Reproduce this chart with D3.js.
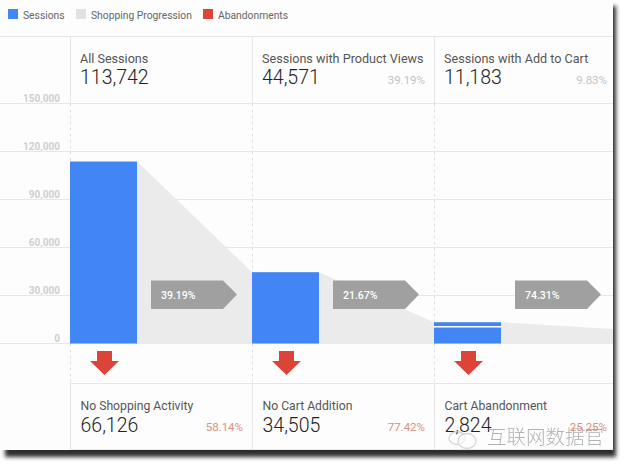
<!DOCTYPE html>
<html>
<head>
<meta charset="utf-8">
<script src="https://cdn.jsdelivr.net/npm/d3@7"></script>
<style>
  html, body { margin: 0; padding: 0; background: #fff; }
  svg { display: block; }
  text { font-family: Roboto, "Liberation Sans", sans-serif; }
</style>
</head>
<body>
<svg id="chart" width="625" height="467"></svg>
<script>
// Data
const legendNames = ['Sessions', 'Shopping Progression', 'Abandonments'];
const legendColors = ['#4285f4', '#e2e2e2', '#db4437'];
const yTicks = [0, 30000, 60000, 90000, 120000, 150000];

const stageTitles = ['All Sessions', 'Sessions with Product Views', 'Sessions with Add to Cart'];
const stageValues = ['113,742', '44,571', '11,183'];
const stageShares = ['', '39.19%', '9.83%'];

// bar heights as drawn (the last bar is drawn taller than its label, with a white split)
const barValues = [113742, 44571, 13300];
const barSplit = [null, null, 10300];
const funnelEnd = 9000;
const progressLabels = ['39.19%', '21.67%', '74.31%'];

const dropTitles = ['No Shopping Activity', 'No Cart Addition', 'Cart Abandonment'];
const dropValues = ['66,126', '34,505', '2,824'];
const dropShares = ['58.14%', '77.42%', '25.25%'];

const svg = d3.select('#chart');

// panel + shadow
const defs = svg.append('defs');
defs.append('filter').attr('id', 'blur').attr('x', '-5%').attr('y', '-5%').attr('width', '110%').attr('height', '110%')
  .append('feGaussianBlur').attr('stdDeviation', 2.2);

svg.append('rect').attr('x', 5).attr('y', 6).attr('width', 611).attr('height', 451)
  .attr('fill', '#2e2e2e').attr('filter', 'url(#blur)');
svg.append('rect').attr('x', -2).attr('y', -2).attr('width', 615).attr('height', 452).attr('fill', '#fdfdfd');

// scales
const y = d3.scaleLinear().domain([0, 150000]).range([343.5, 103.5]);
const x = d3.scaleLinear().domain([0, 1]).range([70, 252]); // one stage = 182px
const barW = 67;
const right = 613;
const stages = d3.range(3);

// horizontal rules outside the value axis
const lineColor = '#e6e6e6';
svg.append('line').attr('x1', 0).attr('x2', right).attr('y1', 36.5).attr('y2', 36.5).attr('stroke', lineColor);
[383.5, 449.5].forEach(ly => {
  svg.append('line').attr('x1', 70).attr('x2', right).attr('y1', ly).attr('y2', ly).attr('stroke', lineColor);
});

// value axis + grid
const axis = d3.axisLeft(y).tickValues(yTicks).tickFormat(d3.format(',')).tickSize(0).tickPadding(10);
const axisG = svg.append('g').attr('transform', 'translate(70,0)').call(axis);
axisG.select('.domain').remove();
axisG.selectAll('text').attr('dy', -2.5).attr('fill', '#cfcfcf').attr('font-size', 10).attr('font-weight', 700)
  .style('font-family', 'Roboto, sans-serif');

svg.append('g').selectAll('line').data(yTicks).join('line')
  .attr('x1', 0).attr('x2', right)
  .attr('y1', d => y(d)).attr('y2', d => y(d))
  .attr('stroke', lineColor);

// funnel shapes between the bars
const nextTop = i => i < 2 ? barValues[i + 1] : funnelEnd;
const nextX = i => i < 2 ? x(i + 1) : right;
svg.append('g').selectAll('path').data(stages).join('path')
  .attr('d', i => `M${x(i) + barW},${y(barValues[i])}L${nextX(i)},${y(nextTop(i))}L${nextX(i)},${y(0)}L${x(i) + barW},${y(0)}Z`)
  .attr('fill', '#ebebeb');

// column separators
stages.forEach(i => {
  const sx = x(i) + 0.5;
  svg.append('line').attr('x1', sx).attr('x2', sx).attr('y1', 36).attr('y2', 103.5).attr('stroke', lineColor);
  svg.append('line').attr('x1', sx).attr('x2', sx).attr('y1', 103.5).attr('y2', 383)
    .attr('stroke', '#e0e0e0').attr('stroke-dasharray', '3,3');
  svg.append('line').attr('x1', sx).attr('x2', sx).attr('y1', 383).attr('y2', 450).attr('stroke', lineColor);
});

// bars
svg.append('g').selectAll('rect').data(stages).join('rect')
  .attr('x', i => x(i)).attr('width', barW)
  .attr('y', i => y(barValues[i])).attr('height', i => y(0) - y(barValues[i]))
  .attr('fill', legendColors[0]);
svg.append('g').selectAll('rect').data(stages.filter(i => barSplit[i] !== null)).join('rect')
  .attr('x', i => x(i)).attr('width', barW)
  .attr('y', i => y(barSplit[i]) - 1).attr('height', 1.5)
  .attr('fill', '#fff');

// grey progress arrows
const progress = svg.append('g').selectAll('g').data(stages).join('g')
  .attr('transform', i => `translate(${x(i) + 81},280.5)`);
progress.append('path').attr('d', 'M0,0H72L86,14L72,28.5H0Z').attr('fill', '#a0a0a0');
progress.append('text').attr('x', 10).attr('y', 18).attr('fill', '#fff')
  .attr('font-size', 10.5).attr('font-weight', 500).text(i => progressLabels[i]);

// red drop arrows
svg.append('g').selectAll('path').data(stages).join('path')
  .attr('transform', i => `translate(${x(i) + 34.5},351)`)
  .attr('d', 'M-7.5,0H7.5V10H14.5L0,24L-14.5,10H-7.5Z')
  .attr('fill', legendColors[2]);

// top KPI row
stages.forEach(i => {
  const tx = x(i) + 10;
  svg.append('text').attr('x', tx).attr('y', 63).attr('font-size', 12.6).attr('fill', '#555').text(stageTitles[i]);
  svg.append('text').attr('x', tx).attr('y', 84).attr('font-size', 19.5).attr('font-weight', 300).attr('fill', '#222').text(stageValues[i]);
  svg.append('text').attr('x', x(i) + 173).attr('y', 84).attr('text-anchor', 'end')
    .attr('font-size', 11.5).attr('fill', '#c4c4c4').text(stageShares[i]);
});

// bottom KPI row
stages.forEach(i => {
  const tx = x(i) + 10.5;
  svg.append('text').attr('x', tx).attr('y', 410).attr('font-size', 12.2).attr('fill', '#555').text(dropTitles[i]);
  svg.append('text').attr('x', tx).attr('y', 431.5).attr('font-size', 19.5).attr('font-weight', 300).attr('fill', '#222').text(dropValues[i]);
  svg.append('text').attr('x', x(i) + 173).attr('y', 431).attr('text-anchor', 'end')
    .attr('font-size', 11.5).attr('fill', '#d9907e').text(dropShares[i]);
});

// legend
const legendX = [8, 76, 203];
const legend = svg.append('g').selectAll('g').data(legendNames).join('g')
  .attr('transform', (d, i) => `translate(${legendX[i]},9)`);
legend.append('rect').attr('width', 10).attr('height', 10).attr('fill', (d, i) => legendColors[i]);
legend.append('text').attr('x', 15).attr('y', 10).attr('font-size', 10.3).attr('fill', '#666').text(d => d);

// watermark
const mark = svg.append('g').attr('opacity', 0.75);
mark.append('ellipse').attr('cx', 457).attr('cy', 438).attr('rx', 8).attr('ry', 6.5)
  .attr('fill', 'none').attr('stroke', '#c9c9c9').attr('stroke-width', 1.3);
mark.append('ellipse').attr('cx', 467).attr('cy', 441).attr('rx', 9).attr('ry', 7.5)
  .attr('fill', 'rgba(255,255,255,0.6)').attr('stroke', '#c9c9c9').attr('stroke-width', 1.3);
mark.append('text').attr('x', 487).attr('y', 444).attr('font-size', 19.5)
  .style('font-family', '"Noto Sans CJK SC", sans-serif').attr('font-weight', 300)
  .attr('fill', '#9a9a9a').text('互联网数据官');
</script>
</body>
</html>
